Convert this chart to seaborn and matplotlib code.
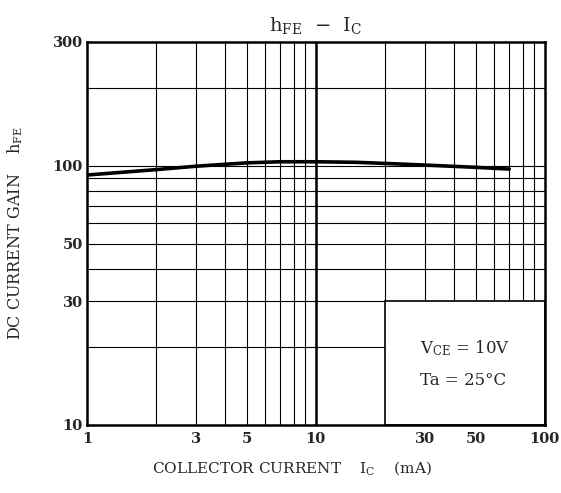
import numpy as np
import pandas as pd
import seaborn as sns
import matplotlib.pyplot as plt
from matplotlib.patches import Rectangle
from matplotlib.ticker import FixedLocator, NullFormatter

# collector current (mA) and DC current gain
ic_ma = [1, 2, 3, 5, 7, 10, 15, 20, 30, 50, 70]
hfe = [92, 96.5, 99.5, 102.5, 103.5, 103.5, 103, 102, 100.5, 98.5, 97]

x_ticks = [1, 3, 5, 10, 30, 50, 100]
y_ticks = [10, 30, 50, 100, 300]
x_grid = [2, 3, 4, 5, 6, 7, 8, 9, 20, 30, 40, 50, 60, 70, 80, 90]
y_grid = [20, 30, 40, 50, 60, 70, 80, 90, 200]

sns.set_style("white")
plt.rcParams['font.family'] = ['DejaVu Serif']
plt.rcParams['mathtext.fontset'] = 'dejavuserif'

df = pd.DataFrame({'ic': ic_ma, 'hfe': hfe})

fig = plt.figure(figsize=(5.61, 4.93), dpi=100)
ax = fig.add_axes([0.155, 0.138, 0.816, 0.777])

ax.set_xscale('log')
ax.set_yscale('log')
ax.set_xlim(1, 100)
ax.set_ylim(10, 300)

# grid lines
for v in x_grid:
    ax.axvline(v, color='black', lw=0.8, zorder=0.5)
ax.axvline(10, color='black', lw=1.8, zorder=0.5)
for v in y_grid:
    ax.axhline(v, color='black', lw=0.8, zorder=0.5)
ax.axhline(100, color='black', lw=0.8, zorder=0.5)

# blank box for conditions
ax.add_patch(Rectangle((20, 10), 80, 20, facecolor='white', edgecolor='black',
                       lw=1.2, zorder=1))

sns.lineplot(data=df, x='ic', y='hfe', color='black', lw=2.6, ax=ax, zorder=3)

ax.xaxis.set_major_locator(FixedLocator(x_ticks))
ax.yaxis.set_major_locator(FixedLocator(y_ticks))
ax.xaxis.set_minor_formatter(NullFormatter())
ax.yaxis.set_minor_formatter(NullFormatter())
ax.set_xticklabels([str(t) for t in x_ticks], fontsize=10.5, fontweight='bold')
ax.set_yticklabels([str(t) for t in y_ticks], fontsize=10.5, fontweight='bold')
ax.tick_params(axis='x', which='both', length=0, pad=5)
ax.tick_params(axis='y', which='both', length=0, pad=3)

for s in ax.spines.values():
    s.set_linewidth(1.8)
    s.set_color('black')

ax.set_xlabel(r'COLLECTOR CURRENT    $\mathrm{I_C}$    (mA)', fontsize=11)
ax.xaxis.set_label_coords(0.449, -0.09)
ax.set_ylabel(r'DC CURRENT GAIN    $\mathrm{h_{FE}}$', fontsize=11.5, labelpad=20)
ax.set_title(r'$\mathrm{h_{FE}}$  −  $\mathrm{I_C}$', fontsize=14, pad=8)

ax.text(28.5, 19.7, r'$\mathrm{V_{CE}}$ = 10V', fontsize=12, ha='left', va='center')
ax.text(28.5, 14.9, 'Ta = 25°C', fontsize=12, ha='left', va='center')

fig.savefig('out.png', dpi=100)
